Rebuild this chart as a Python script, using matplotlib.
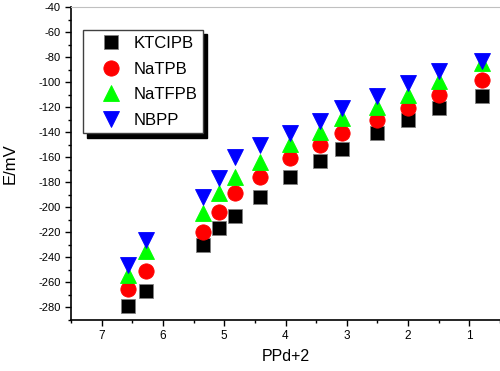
import matplotlib
matplotlib.use("Agg")
import matplotlib.pyplot as plt
from matplotlib.ticker import MultipleLocator

plt.rcParams['font.family'] = ['Liberation Sans', 'DejaVu Sans']
plt.rcParams['axes.unicode_minus'] = False

ppd = [6.57, 6.28, 5.35, 5.08, 4.82, 4.41, 3.92, 3.43, 3.08, 2.50, 2.00, 1.50, 0.80]
ktcipb = [-278.6, -267, -230.4, -217, -207, -191.7, -175.7, -163, -153.6, -140.5, -130.4, -120.3, -111.2]
natpb = [-265, -251, -219.8, -204, -189, -175.7, -160.3, -150.4, -140.5, -130.4, -120.3, -110.4, -98.4]
natfpb = [-254.4, -235, -205, -189, -175.7, -163.7, -149.6, -139.7, -129, -119.7, -110, -99, -84.5]
nbpp = [-246.4, -226.4, -192, -176.8, -159.8, -150.4, -140.5, -131, -121, -111, -101, -91, -83]

labels = ['KTCIPB', 'NaTPB', 'NaTFPB', 'NBPP']
x_ticks = [7, 6, 5, 4, 3, 2, 1]
y_ticks = list(range(-280, -39, 20))

fig = plt.figure(figsize=(5.0, 3.71), dpi=100)
ax = fig.add_axes([0.142, 0.138, 0.858, 0.843])

series = [ktcipb, natpb, natfpb, nbpp]
markers = ['s', 'o', '^', 'v']
colors = ['#000000', '#ff0000', '#00ff00', '#0000ff']
sizes = [10, 11, 12, 12]
for ys, m, c, s, lab in zip(series, markers, colors, sizes, labels):
    ax.plot(ppd, ys, linestyle='none', marker=m, color=c, markersize=s,
            markeredgecolor='#808080' if m == 's' else c, markeredgewidth=0.6,
            label=lab)

ax.set_xlim(7.5, 0.5)
ax.set_ylim(-290, -40)
ax.set_xticks(x_ticks)
ax.set_yticks(y_ticks)
ax.xaxis.set_minor_locator(MultipleLocator(0.5))
ax.yaxis.set_minor_locator(MultipleLocator(10))
ax.tick_params(axis='both', which='major', direction='out', length=4.5, width=1, pad=3)
ax.tick_params(axis='both', which='minor', direction='out', length=2.5, width=1)
ax.tick_params(axis='y', labelsize=8)
ax.tick_params(axis='x', labelsize=8.5)

ax.spines['right'].set_visible(False)
ax.spines['top'].set_color('#c0c0c0')
ax.spines['left'].set_linewidth(1.2)
ax.spines['bottom'].set_linewidth(1.2)

ax.set_xlabel('PPd+2', fontsize=11.5, labelpad=5)
ax.set_ylabel('E/mV', fontsize=12, labelpad=15)

leg = ax.legend(loc='upper left', bbox_to_anchor=(0.027, 0.926), borderaxespad=0,
                fontsize=12, frameon=True, fancybox=False,
                shadow={'color': 'black', 'alpha': 1, 'ox': 3, 'oy': -3},
                handlelength=2.7, handletextpad=0.0, labelspacing=0.63,
                borderpad=0.35, markerscale=1.0)
leg.get_frame().set_edgecolor('#404040')
leg.get_frame().set_linewidth(1.0)

fig.savefig('out.png', dpi=100)
